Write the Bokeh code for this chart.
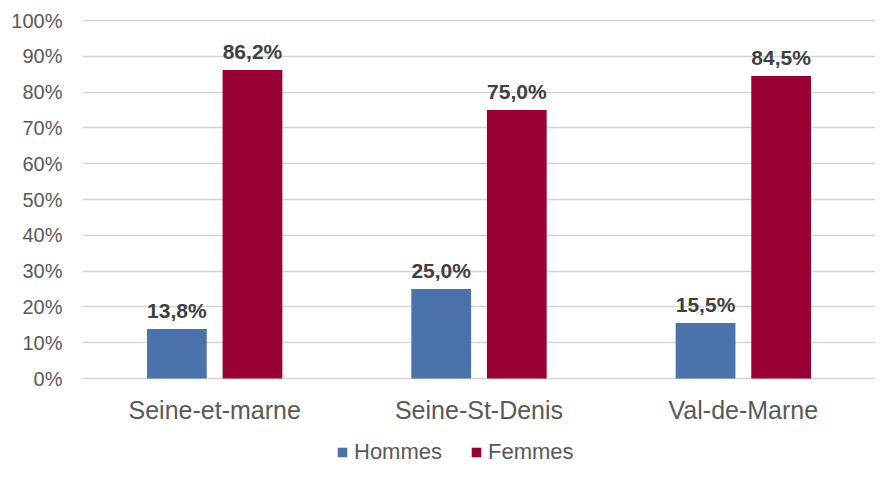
from bokeh.plotting import figure
from bokeh.models import FactorRange, Range1d, ColumnDataSource, Legend, LegendItem, NumeralTickFormatter, FixedTicker
from bokeh.transform import dodge
from bokeh.core.properties import value
from bokeh.embed import file_html
from bokeh.resources import INLINE

categories = ["Seine-et-marne", "Seine-St-Denis", "Val-de-Marne"]
hommes = [0.138, 0.250, 0.155]
femmes = [0.862, 0.750, 0.845]
hommes_labels = ["13,8%", "25,0%", "15,5%"]
femmes_labels = ["86,2%", "75,0%", "84,5%"]
y_ticks = [0, 0.1, 0.2, 0.3, 0.4, 0.5, 0.6, 0.7, 0.8, 0.9, 1.0]

C_H = "#4A73AC"
C_F = "#990033"
FONT = "Liberation Sans"

src = ColumnDataSource(dict(cat=categories, h=hommes, f=femmes, hl=hommes_labels, fl=femmes_labels,
                            zero=[0] * len(categories)))

p = figure(width=875, height=467, x_range=FactorRange(*categories), y_range=Range1d(-0.2486, 1.0112),
           output_backend="svg", toolbar_location=None,
           min_border_left=82, min_border_right=0, min_border_top=16, min_border_bottom=0)
p.outline_line_color = None
p.background_fill_color = "white"

rh = p.vbar(x=dodge("cat", -0.143, range=p.x_range), top="h", width=0.226, source=src,
            fill_color=C_H, line_color=None)
rf = p.vbar(x=dodge("cat", 0.143, range=p.x_range), top="f", width=0.226, source=src,
            fill_color=C_F, line_color=None)

p.text(x=dodge("cat", -0.143, range=p.x_range), y="h", text="hl", source=src,
       text_align="center", text_baseline="bottom", y_offset=-7,
       text_font=value(FONT), text_font_style="bold", text_font_size="21px", text_color="#404040")
p.text(x=dodge("cat", 0.143, range=p.x_range), y="f", text="fl", source=src,
       text_align="center", text_baseline="bottom", y_offset=-7,
       text_font=value(FONT), text_font_style="bold", text_font_size="21px", text_color="#404040")

# category labels below the 0% line
p.text(x="cat", y="zero", text="cat", source=src, text_align="center", text_baseline="middle",
       y_offset=31, text_font=value(FONT), text_font_size="25px", text_color="#595959")

p.yaxis.ticker = FixedTicker(ticks=y_ticks)
p.yaxis.formatter = NumeralTickFormatter(format="0%")
p.yaxis.axis_line_color = None
p.yaxis.major_tick_line_color = None
p.yaxis.minor_tick_line_color = None
p.yaxis.major_tick_out = 0
p.yaxis.major_tick_in = 0
p.yaxis.major_label_text_font = FONT
p.yaxis.major_label_text_font_size = "20px"
p.yaxis.major_label_text_color = "#595959"
p.yaxis.major_label_standoff = 20

p.xaxis.visible = False

p.xgrid.grid_line_color = None
p.ygrid.ticker = FixedTicker(ticks=y_ticks)
p.ygrid.grid_line_color = "#D4D4D4"
p.ygrid.grid_line_width = 1.3

legend = Legend(items=[LegendItem(label="Hommes", renderers=[rh]), LegendItem(label="Femmes", renderers=[rf])],
                orientation="horizontal", location=(254, 2),
                label_text_font=FONT, label_text_font_size="22px", label_text_color="#595959",
                glyph_width=12, glyph_height=12, spacing=28, label_standoff=6,
                border_line_color=None, background_fill_alpha=0, margin=0, padding=0)
p.add_layout(legend, "center")

open("out.html", "w").write(file_html(p, INLINE))
